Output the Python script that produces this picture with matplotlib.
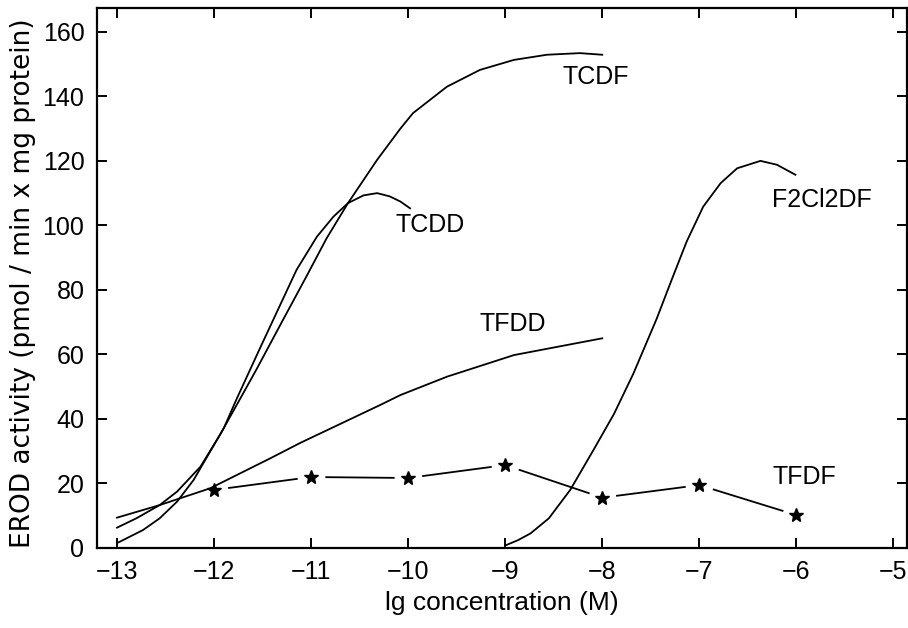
import matplotlib
matplotlib.use("Agg")
import matplotlib.pyplot as plt

plt.rcParams["font.family"] = ["Liberation Sans", "DejaVu Sans"]

# values (x = lg concentration, y = EROD activity)
tcdf_x = [-13.0, -12.80, -12.56, -12.38, -12.14, -11.94, -11.68, -11.56, -11.32, -11.06,
          -10.84, -10.62, -10.32, -10.08, -9.95, -9.60, -9.26, -8.91, -8.57, -8.23, -8.00]
tcdf_y = [6.3, 9.2, 13.3, 17.5, 25.2, 35.0, 49.0, 55.5, 69.0, 83.5,
          96.0, 106.9, 120.3, 130.0, 134.8, 143.0, 148.2, 151.3, 152.9, 153.4, 152.9]

tcdd_x = [-13.0, -12.73, -12.56, -12.38, -12.21, -12.04, -11.90, -11.77, -11.53, -11.15,
          -10.94, -10.77, -10.62, -10.46, -10.32, -10.19, -10.08, -9.98]
tcdd_y = [1.5, 5.6, 9.2, 14.4, 21.1, 29.9, 37.1, 46.0, 61.7, 86.2,
          96.5, 102.7, 106.9, 109.3, 110.0, 109.0, 107.4, 105.3]

tfdd_x = [-13.0, -12.56, -12.04, -11.42, -11.11, -10.29, -10.08, -9.60, -8.91, -8.00]
tfdd_y = [9.4, 13.3, 18.5, 27.8, 32.6, 44.3, 47.4, 53.1, 59.8, 65.0]

f2cl2df_x = [-8.99, -8.87, -8.74, -8.55, -8.33, -8.09, -7.88, -7.68, -7.44, -7.28, -7.13,
             -6.96, -6.78, -6.61, -6.37, -6.20, -6.01]
f2cl2df_y = [0.9, 2.4, 4.5, 9.2, 18.0, 30.4, 41.5, 54.0, 71.0, 83.5, 95.0,
             105.8, 113.1, 117.7, 120.0, 118.8, 115.7]

tfdf_x = [-12, -11, -10, -9, -8, -7, -6]
tfdf_y = [18.0, 22.0, 21.7, 25.7, 15.6, 19.5, 10.2]

labels = ["TCDF", "TCDD", "TFDD", "F2Cl2DF", "TFDF"]
label_x = [-8.41, -10.13, -9.26, -6.25, -6.25]
label_y = [146, 100, 69.5, 108, 22]

fig = plt.figure(figsize=(9.08, 6.28), dpi=100)
ax = fig.add_axes([0.1068, 0.1274, 0.8921, 0.8594])

lw = 1.3
ax.plot(tcdf_x, tcdf_y, color="black", lw=lw, zorder=2)
ax.plot(tcdd_x, tcdd_y, color="black", lw=lw, zorder=2)
ax.plot(tfdd_x, tfdd_y, color="black", lw=lw, zorder=2)
ax.plot(f2cl2df_x, f2cl2df_y, color="black", lw=lw, zorder=2)

# TFDF: line broken around each star
ax.plot(tfdf_x, tfdf_y, color="black", lw=lw, zorder=1)
ax.plot(tfdf_x, tfdf_y, ls="none", marker="o", ms=20, mfc="white", mec="none", zorder=1.5)
ax.plot(tfdf_x, tfdf_y, ls="none", marker="*", ms=10, color="black", zorder=3)

for t, x, y in zip(labels, label_x, label_y):
    ax.text(x, y, t, fontsize=18, ha="left", va="center")

ax.set_xlim(-13.206, -4.86)
ax.set_ylim(0, 167.3)
ax.set_xticks(range(-13, -4))
ax.set_yticks(range(0, 161, 20))

ax.tick_params(direction="in", length=7, width=1.4, labelsize=18,
               top=True, right=True, pad=9)
for s in ax.spines.values():
    s.set_linewidth(1.6)

ax.set_xlabel("lg concentration (M)", fontsize=19)
ax.xaxis.set_label_coords(0.5, -0.08)
ax.set_ylabel("EROD activity (pmol / min x mg protein)", fontsize=19,
              family="DejaVu Sans", loc="bottom")
ax.yaxis.set_label_coords(-0.075, 0.0)

fig.savefig("out.png", dpi=100)
